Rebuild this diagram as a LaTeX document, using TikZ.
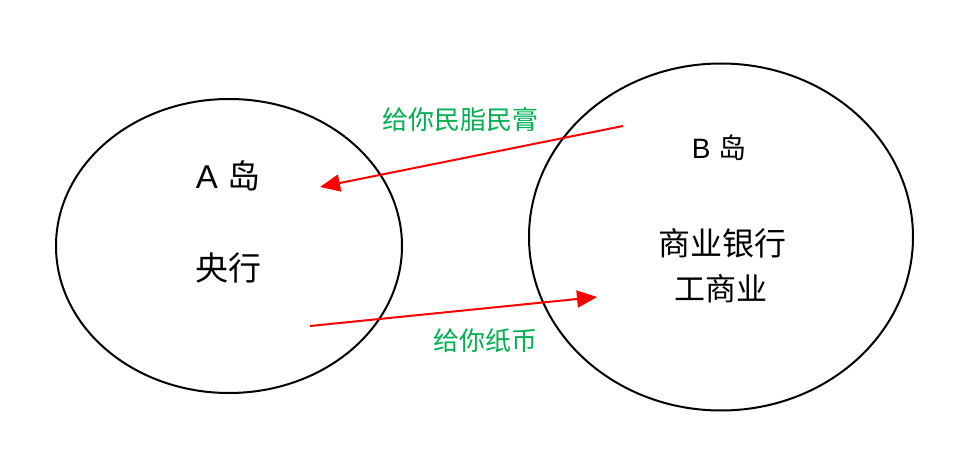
\documentclass[tikz,border=0pt]{standalone}
\usepackage{fontspec}
\setmainfont{Liberation Sans}
\newfontfamily\cjk{Noto Sans CJK SC}
\usetikzlibrary{arrows.meta, shapes.geometric, positioning}

\definecolor{moneygreen}{RGB}{0,176,80}

\tikzset{
	island/.style={draw=black, line width=2pt, ellipse, inner sep=0pt},
	flow/.style={draw=red, line width=2pt, -{Triangle[length=20pt, width=17pt]}},
	gift/.style={text=moneygreen, font=\cjk\fontsize{26pt}{30pt}\selectfont}
}

\begin{document}
\begin{tikzpicture}[x=1pt, y=-1pt]
		\useasboundingbox (0,0) rectangle (970,457);
		
		% Islands
		\node[island, minimum width=346pt, minimum height=294pt] (islandA) at (229,246) {};
		\node[island, minimum width=384pt, minimum height=347pt] (islandB) at (721,237) {};
		
		% Island A
		\node[font=\fontsize{33pt}{36pt}\selectfont] (nameA) at (228,176) {A {\cjk 岛}};
		\node[font=\cjk\fontsize{33pt}{36pt}\selectfont] (bankA) at (228,268) {央行};
		
		% Island B
		\node[font=\fontsize{28pt}{31pt}\selectfont] (nameB) at (719,148) {B {\cjk 岛}};
		\node[font=\cjk\fontsize{32pt}{35pt}\selectfont] (bankB) at (722,243) {商业银行};
		\node[font=\cjk\fontsize{31pt}{34pt}\selectfont] (tradeB) at (721,289) {工商业};
		
		% Flows between the islands
		\coordinate (goodsStart) at (623,126);
		\coordinate (goodsEnd) at (320,187);
		\coordinate (paperStart) at (310,326);
		\coordinate (paperEnd) at (597,297);
		\draw[flow] (goodsStart) -- (goodsEnd);
		\draw[flow] (paperStart) -- (paperEnd);
		
		\node[gift] (goodsLabel) at (460,120) {给你民脂民膏};
		\node[gift] (paperLabel) at (485,341) {给你纸币};
	\end{tikzpicture}
\end{document}
